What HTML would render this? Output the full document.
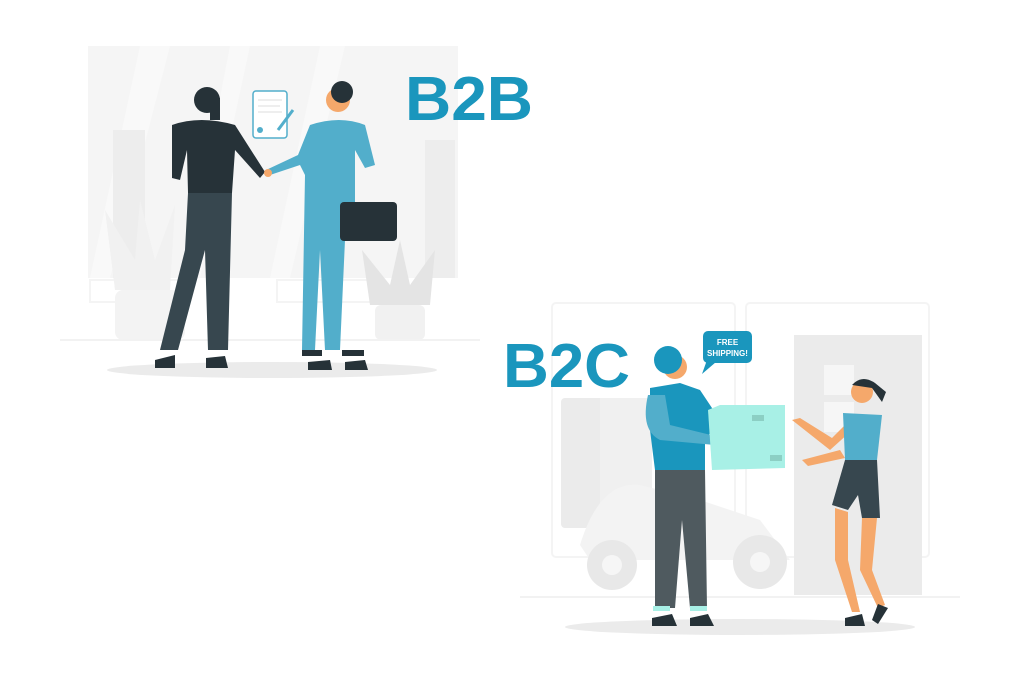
<!DOCTYPE html>
<html><head><meta charset="utf-8"><style>
html,body{margin:0;padding:0;background:#fff}
svg{display:block}
text{font-family:"Liberation Sans",sans-serif;font-weight:bold}
</style></head><body>
<svg width="1024" height="683" viewBox="0 0 1024 683" xmlns="http://www.w3.org/2000/svg">
<!-- TOP SCENE -->
<rect x="88" y="46" width="370" height="232" fill="#f5f5f5"/>
<polygon points="140,46 170,46 110,278 90,278" fill="#f9f9f9"/>
<polygon points="230,46 250,46 200,278 185,278" fill="#f9f9f9"/>
<polygon points="320,46 345,46 290,278 270,278" fill="#f9f9f9"/>
<rect x="113" y="130" width="32" height="148" fill="#ededed"/>
<rect x="425" y="140" width="30" height="138" fill="#ededed"/>
<rect x="90" y="280" width="95" height="22" fill="none" stroke="#f4f4f4" stroke-width="2"/>
<rect x="277" y="280" width="95" height="22" fill="none" stroke="#f4f4f4" stroke-width="2"/>
<path d="M115 290 L105 210 L135 260 L140 200 L155 260 L175 205 L170 290 Z" fill="#f1f1f1"/>
<rect x="115" y="290" width="70" height="50" rx="8" fill="#f3f3f3"/>
<path d="M370 305 L362 250 L390 285 L400 240 L410 285 L435 250 L430 305 Z" fill="#e4e4e4"/>
<rect x="375" y="305" width="50" height="35" rx="6" fill="#f1f1f1"/>
<line x1="60" y1="340" x2="480" y2="340" stroke="#f2f2f2" stroke-width="2"/>
<ellipse cx="272" cy="370" rx="165" ry="8" fill="#ebebeb"/>
<!-- document -->
<rect x="253" y="91" width="34" height="47" rx="3" fill="#fff" stroke="#52aecb" stroke-width="1.5"/>
<line x1="258" y1="100" x2="282" y2="100" stroke="#ddd"/><line x1="258" y1="106" x2="280" y2="106" stroke="#ddd"/><line x1="258" y1="112" x2="282" y2="112" stroke="#ddd"/>
<circle cx="260" cy="130" r="3" fill="#52aecb"/>
<line x1="278" y1="130" x2="293" y2="110" stroke="#52aecb" stroke-width="3"/>
<!-- man 1 -->
<circle cx="207" cy="100" r="13" fill="#263238"/>
<rect x="210" y="98" width="10" height="22" fill="#263238"/>
<path d="M172 125 Q200 115 235 125 L265 172 L260 178 L235 150 L232 193 L188 193 L187 150 L180 180 L172 178 Z" fill="#263238"/>
<path d="M188 193 L232 193 L228 350 L208 350 L205 250 L178 350 L160 350 L185 250 Z" fill="#37474f"/>
<path d="M155 360 L175 355 L175 368 L155 368 Z" fill="#263238"/>
<path d="M206 358 L225 356 L228 368 L206 368 Z" fill="#263238"/>
<!-- man 2 -->
<circle cx="338" cy="100" r="12" fill="#f5a86b"/>
<circle cx="342" cy="92" r="11" fill="#263238"/>
<path d="M310 125 Q340 115 365 125 L375 165 L365 168 L355 150 L355 240 L345 240 L340 350 L325 350 L320 250 L315 350 L302 350 L305 175 L300 165 L270 175 L266 170 L298 155 Z" fill="#52aecb"/>
<circle cx="268" cy="173" r="4" fill="#f5a86b"/>
<rect x="340" y="202" width="57" height="39" rx="4" fill="#263238"/>
<rect x="302" y="350" width="20" height="6" fill="#263238"/><rect x="342" y="350" width="22" height="6" fill="#263238"/>
<path d="M308 362 L330 360 L332 370 L308 370 Z" fill="#263238"/>
<path d="M345 362 L365 360 L368 370 L345 370 Z" fill="#263238"/>
<text x="405" y="120" font-size="62" fill="#1a96bd" textLength="128" lengthAdjust="spacingAndGlyphs">B2B</text>

<!-- BOTTOM SCENE -->
<rect x="552" y="303" width="183" height="254" rx="4" fill="none" stroke="#f4f4f4" stroke-width="2"/>
<rect x="746" y="303" width="183" height="254" rx="4" fill="none" stroke="#f4f4f4" stroke-width="2"/>
<rect x="794" y="335" width="128" height="260" fill="#ebebeb"/>
<rect x="824" y="365" width="30" height="30" fill="#f6f6f6"/><rect x="824" y="402" width="30" height="30" fill="#f6f6f6"/>
<rect x="561" y="398" width="90" height="130" rx="4" fill="#ebebeb"/>
<rect x="600" y="398" width="52" height="130" fill="#f0f0f0"/>
<path d="M580 545 Q600 480 640 485 L700 500 L760 520 L790 560 L590 560 Z" fill="#f3f3f3"/>
<circle cx="612" cy="565" r="25" fill="#e8e8e8"/><circle cx="612" cy="565" r="10" fill="#f6f6f6"/>
<circle cx="760" cy="562" r="27" fill="#e8e8e8"/><circle cx="760" cy="562" r="10" fill="#f6f6f6"/>
<line x1="520" y1="597" x2="960" y2="597" stroke="#f2f2f2" stroke-width="2"/>
<ellipse cx="740" cy="627" rx="175" ry="8" fill="#ebebeb"/>
<!-- bubble -->
<rect x="703" y="331" width="49" height="32" rx="5" fill="#1a96bd"/>
<path d="M707 360 L702 374 L716 362 Z" fill="#1a96bd"/>
<text x="727.5" y="345" font-size="8" fill="#fff" text-anchor="middle" font-weight="normal">FREE</text>
<text x="727.5" y="356" font-size="8" fill="#fff" text-anchor="middle" font-weight="normal">SHIPPING!</text>
<!-- delivery man -->
<circle cx="675" cy="367" r="12" fill="#f5a86b"/>
<circle cx="668" cy="360" r="14" fill="#1a96bd"/>
<path d="M650 388 L680 383 L700 390 L720 420 L705 440 L705 470 L655 470 L650 430 Z" fill="#1a96bd"/>
<path d="M648 395 Q640 430 660 440 L715 445 L715 436 L670 425 L665 395 Z" fill="#52aecb"/>
<path d="M655 470 L705 470 L707 608 L690 608 L682 520 L675 608 L655 608 Z" fill="#4f5a5f"/>
<rect x="653" y="606" width="17" height="5" fill="#a8f0e6"/><rect x="690" y="606" width="17" height="5" fill="#a8f0e6"/>
<path d="M652 618 L672 614 L677 626 L652 626 Z" fill="#263238"/>
<path d="M690 618 L708 614 L714 626 L690 626 Z" fill="#263238"/>
<!-- box -->
<path d="M708 410 L720 405 L785 405 L785 468 L712 470 Z" fill="#a8f0e6"/>
<rect x="752" y="415" width="12" height="6" fill="#8ccfc4"/><rect x="770" y="455" width="12" height="6" fill="#8ccfc4"/>
<!-- woman -->
<circle cx="862" cy="392" r="11" fill="#f5a86b"/>
<path d="M852 385 Q862 374 875 383 L886 392 L882 402 L872 388 Z" fill="#263238"/>
<path d="M792 420 L800 418 L832 438 L845 425 L850 432 L830 450 Z" fill="#f5a86b"/>
<path d="M802 460 L840 450 L845 458 L808 466 Z" fill="#f5a86b"/>
<path d="M843 413 L882 415 L877 460 L845 460 Z" fill="#52aecb"/>
<path d="M845 460 L877 460 L880 518 L862 518 L858 495 L848 510 L832 505 Z" fill="#37474f"/>
<path d="M835 508 L848 512 L848 560 L860 612 L852 612 L835 560 Z" fill="#f5a86b"/>
<path d="M862 518 L877 518 L872 570 L885 605 L878 608 L860 570 Z" fill="#f5a86b"/>
<path d="M845 618 L862 614 L865 626 L845 626 Z" fill="#263238"/>
<path d="M878 604 L888 608 L878 624 L872 620 Z" fill="#263238"/>
<text x="503" y="387" font-size="62" fill="#1a96bd" textLength="127" lengthAdjust="spacingAndGlyphs">B2C</text>
</svg>
</body></html>
